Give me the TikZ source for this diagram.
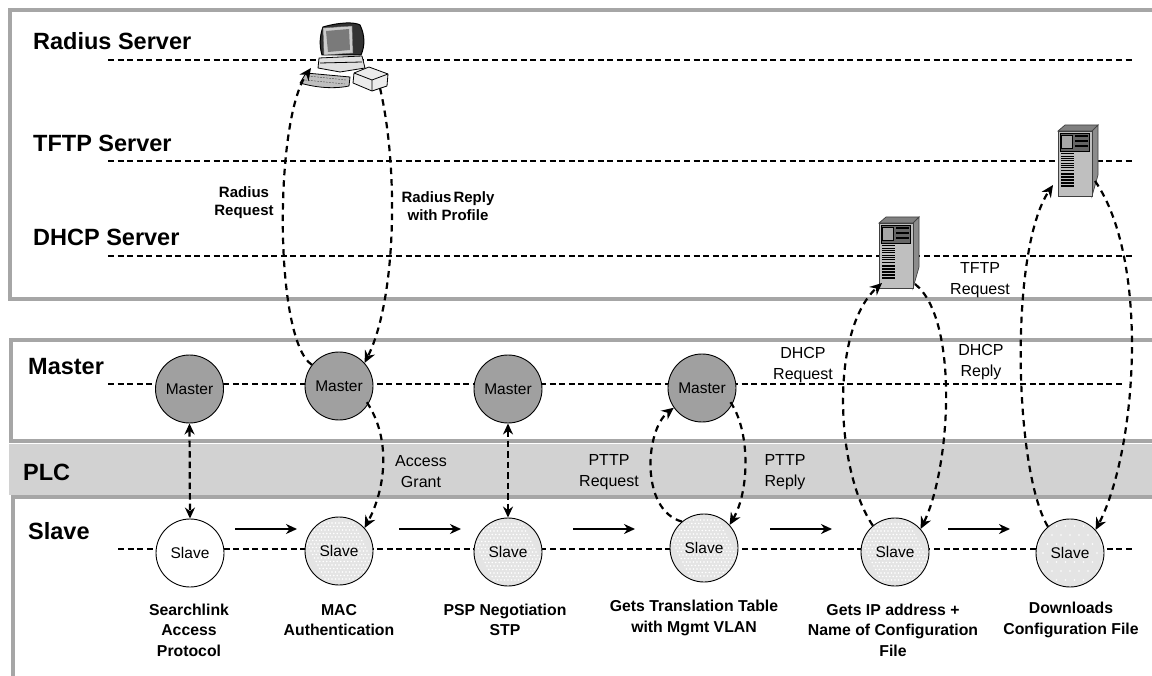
\documentclass[tikz,border=0pt]{standalone}
\usepackage{fontspec}
\setmainfont{Liberation Sans}
\usetikzlibrary{arrows.meta,calc}
\definecolor{frameg}{HTML}{A6A6A6}
\definecolor{bandg}{HTML}{D2D2D2}
\definecolor{mastg}{HTML}{A0A0A0}
\definecolor{dotg}{HTML}{E4E4E4}
\newcommand{\srvbox}[2]{%
  \begin{scope}[shift={(#1,#2)},line width=0.7pt]
    \filldraw[draw=black!75,fill=black!50] (0,0) -- (7,-6) -- (40,-6) -- (34,0) -- cycle;
    \filldraw[draw=black!75,fill=black!45] (34,0) -- (40,-6) -- (40,44) -- (34,65) -- cycle;
    \filldraw[draw=black!75,fill=black!25] (0,0) rectangle (34,65);
    \filldraw[draw=black,fill=black!60] (2,2) rectangle (31,20);
    \draw[fill=black!35] (3,4) rectangle (14,17);
    \draw[line width=1.2pt] (17,5) -- (30,5) (17,10) -- (30,10) (17,15) -- (30,15);
    \foreach \yy in {23,25.3,...,41} {\draw[line width=1pt] (3,\yy) -- (16,\yy);}
    \foreach \yy in {43,46,...,55} {\draw[line width=1.4pt] (3,\yy) -- (16,\yy);}
  \end{scope}}
\tikzset{
  guide/.style={line width=1.2pt,dash pattern=on 6pt off 3.6pt},
  frameline/.style={draw=frameg,line width=4.5pt},
  flow/.style={line width=2.2pt,dash pattern=on 6.5pt off 5pt,-{Stealth[length=12pt,width=11pt]}},
  flowtwo/.style={line width=2.2pt,dash pattern=on 6.5pt off 4pt,{Stealth[length=11pt,width=10pt]}-{Stealth[length=11pt,width=10pt]}},
  stepflow/.style={line width=2.3pt,-{Stealth[length=11pt,width=10pt]}},
  state/.style={circle,draw=black,line width=0.9pt,minimum size=68pt,inner sep=0pt,font=\fontsize{15.5}{17}\selectfont},
  mastern/.style={state,fill=mastg},
  slaven/.style={state,fill=white},
  slavedot/.style={state,fill=dotg,path picture={
     \foreach \i in {-8,...,8}{\foreach \j in {-8,...,8}{
       \fill[white] ($(path picture bounding box.center)+(\i*#1+\j*#1*0.5,\j*#1)$) circle (0.8pt);}}}},
  heading/.style={anchor=base west,inner sep=0pt,font=\bfseries\fontsize{23.5}{27}\selectfont},
  caption/.style={align=center,font=\bfseries\fontsize{15.8}{20.5}\selectfont},
  msg/.style={align=center,font=\fontsize{16}{21}\selectfont},
  msgb/.style={align=center,font=\bfseries\fontsize{15}{18}\selectfont},
}
\begin{document}
\begin{tikzpicture}[x=1pt,y=-1pt]
\useasboundingbox (0,0) rectangle (1152,676);
% frames
\fill[bandg] (9,444) rectangle (1152,495);
\draw[frameline] (1152,10) -- (10,10) -- (10,299) -- (1152,299);
\draw[frameline] (1152,340) -- (11,340) -- (11,441) -- (1152,441);
\draw[frameline] (1152,497) -- (13,497) -- (13,676);
% guides
\foreach \n/\a/\b/\yy in {r/108/1135/60,t/108/1135/161,d/108/1135/256,m/108/1125/384,s/118/1135/549}{
  \coordinate (\n L) at (\a,\yy); \coordinate (\n R) at (\b,\yy);
  \draw[guide] (\n L) -- (\n R);}
% headings
\node[heading] (h1) at (33,50) {Radius Server};
\node[heading] (h2) at (33,152) {TFTP Server};
\node[heading] (h3) at (33,246) {DHCP Server};
\node[heading] (h4) at (28,374) {Master};
\node[heading] (h5) at (23,480) {PLC};
\node[heading] (h6) at (28,539) {Slave};
% computer
\coordinate (pc) at (340,50);
\begin{scope}[line join=round]
  \filldraw[draw=black,fill=black!80,line width=1pt] (323,27) .. controls (340,22) and (355,22) .. (360,25) .. controls (365,35) and (365,46) .. (361,55) -- (322,55) .. controls (319,45) and (320,35) .. (323,27) -- cycle;
  \filldraw[draw=black!60,fill=black!20] (323,28) -- (352,26) -- (353,53) -- (324,55) -- cycle;
  \fill[black!52] (326,31) -- (349,29) -- (350,50) -- (328,52) -- cycle;
  \filldraw[draw=black,fill=black!12,line width=0.8pt] (319,58) -- (362,56) -- (365,68) -- (340,72) -- (318,68) -- cycle;
  \draw[line width=0.8pt] (320,63) -- (362,62);
  \filldraw[draw=black,fill=black!25,line width=0.8pt] (306,73) -- (350,77) -- (349,86) .. controls (330,90) and (310,86) .. (300,83) -- cycle;
  \draw[black!70,dash pattern=on 2pt off 1pt] (308,76) -- (346,80) (305,80) -- (345,84);
  \filldraw[draw=black,fill=black!8,line width=0.8pt] (354,73) -- (369,67) -- (388,74) -- (387,86) -- (372,91) -- (353,83) -- cycle;
  \draw[line width=0.8pt] (354,73) -- (372,80) -- (388,74) (372,80) -- (372,91);
\end{scope}
% servers
\coordinate (dhcpS) at (896,255);
\coordinate (tftpS) at (1075,163);
\srvbox{879}{223}
\srvbox{1058}{131}
% states
\node[mastern] (m1) at (189.5,389) {Master};
\node[mastern] (m2) at (339,386) {Master};
\node[mastern] (m3) at (508,389) {Master};
\node[mastern] (m4) at (702,388) {Master};
\node[slaven] (s1) at (190,553) {Slave};
\node[slavedot=3.5] (s2) at (339,551) {Slave};
\node[slavedot=3.5] (s3) at (508,552) {Slave};
\node[slavedot=3.5] (s4) at (704,548) {Slave};
\node[slavedot=3.5] (s5) at (895,552) {Slave};
\node[slavedot=9] (s6) at (1070,553) {Slave};
% flows
\draw[flow] (m2.142) .. controls (274,340) and (274,120) .. ([shift={(-29,18)}]pc);
\draw[flow] ([shift={(40,38)}]pc) .. controls (399,170) and (396,300) .. (m2.42);
\draw[flow] ([shift={(-2,-1)}]m2.-30) .. controls (392,440) and (385,490) .. (s2.42);
\draw[flowtwo] (m1.south) -- (s1.north);
\draw[flowtwo] (m3.south) -- (s3.north);
\draw[flow] (s4.130) .. controls (640,510) and (645,430) .. (m4.215);
\draw[flow] ([shift={(-2,-2)}]m4.-28) .. controls (750,430) and (750,490) .. (s4.42);
\draw[flow] (s5.130) .. controls (835,470) and (830,330) .. ([shift={(-14,28)}]dhcpS);
\draw[flow] ([shift={(19,29)}]dhcpS) .. controls (960,320) and (950,470) .. (s5.42);
\draw[flow] (s6.130) .. controls (1014,470) and (1009,250) .. ([shift={(-22,22)}]tftpS);
\draw[flow] ([shift={(20,18)}]tftpS) .. controls (1150,260) and (1137,450) .. (s6.42);
\coordinate (a1) at (235,529); \coordinate (a2) at (297,529);
\coordinate (b1) at (399,529); \coordinate (b2) at (461,529);
\coordinate (c1) at (573,529); \coordinate (c2) at (635,529);
\coordinate (d1) at (770,529); \coordinate (d2) at (832,529);
\coordinate (e1) at (948,529); \coordinate (e2) at (1010,529);
\draw[stepflow] (a1) -- (a2); \draw[stepflow] (b1) -- (b2); \draw[stepflow] (c1) -- (c2);
\draw[stepflow] (d1) -- (d2); \draw[stepflow] (e1) -- (e2);
% labels
\node[msgb] (l1) at (244,203) {Radius\\Request};
\node[msgb] (l2) at (448,206) {Radius\hspace{2pt}Reply\\with Profile};
\node[msg] (l3) at (421,472) {Access\\Grant};
\node[msg] (l4) at (609,472) {PTTP\\Request};
\node[msg] (l5) at (785,472) {PTTP\\Reply};
\node[msg] (l6) at (803,365) {DHCP\\Request};
\node[msg] (l7) at (981,362) {DHCP\\Reply};
\node[msg] (l8) at (980,280) {TFTP\\Request};
\node[caption] (c1n) at (189,630) {Searchlink\\Access\\Protocol};
\node[caption] (c2n) at (339,620) {MAC\\Authentication};
\node[caption] (c3n) at (505,620) {PSP Negotiation\\STP};
\node[caption] (c4n) at (694,618) {Gets Translation Table\\with Mgmt VLAN};
\node[caption] (c5n) at (893,630) {Gets IP address +\\Name of Configuration\\File};
\node[caption] (c6n) at (1071,620) {Downloads\\Configuration File};
\end{tikzpicture}
\end{document}
